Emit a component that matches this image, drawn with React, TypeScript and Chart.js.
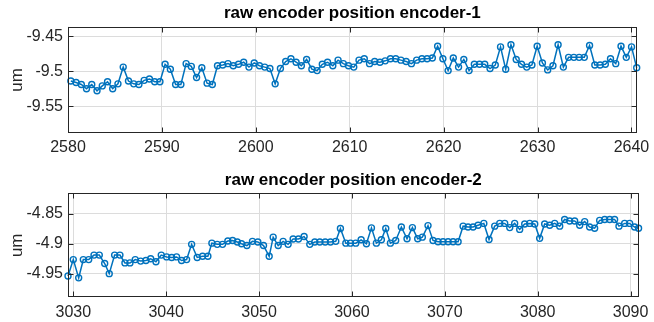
import React, { useEffect, useRef } from 'react';
import { Chart, registerables } from 'chart.js';

Chart.register(...registerables);

// ---------- data: encoder-1 ----------
const topTitle = 'raw encoder position encoder-1';
const topTimes = [
  2580.30, 2580.86, 2581.42, 2581.97, 2582.53, 2583.09, 2583.65, 2584.21, 2584.76, 2585.32,
  2585.88, 2586.44, 2587.00, 2587.55, 2588.11, 2588.67, 2589.23, 2589.79, 2590.34, 2590.90,
  2591.46, 2592.02, 2592.58, 2593.13, 2593.69, 2594.25, 2594.81, 2595.37, 2595.92, 2596.48,
  2597.04, 2597.60, 2598.16, 2598.71, 2599.27, 2599.83, 2600.39, 2600.95, 2601.50, 2602.06,
  2602.62, 2603.18, 2603.74, 2604.29, 2604.85, 2605.41, 2605.97, 2606.53, 2607.08, 2607.64,
  2608.20, 2608.76, 2609.32, 2609.87, 2610.43, 2610.99, 2611.55, 2612.11, 2612.66, 2613.22,
  2613.78, 2614.34, 2614.90, 2615.45, 2616.01, 2616.57, 2617.13, 2617.69, 2618.24, 2618.80,
  2619.36, 2619.92, 2620.48, 2621.03, 2621.59, 2622.15, 2622.71, 2623.27, 2623.82, 2624.38,
  2624.94, 2625.50, 2626.06, 2626.61, 2627.17, 2627.73, 2628.29, 2628.85, 2629.40, 2629.96,
  2630.52, 2631.08, 2631.64, 2632.19, 2632.75, 2633.31, 2633.87, 2634.43, 2634.98, 2635.54,
  2636.10, 2636.66, 2637.22, 2637.77, 2638.33, 2638.89, 2639.45, 2640.01, 2640.56,
];
const topPositions = [
  -9.514, -9.516, -9.519, -9.525, -9.519, -9.528, -9.521, -9.515, -9.525, -9.518,
  -9.494, -9.514, -9.518, -9.519, -9.513, -9.511, -9.515, -9.515, -9.490, -9.497,
  -9.519, -9.519, -9.489, -9.493, -9.509, -9.495, -9.517, -9.519, -9.492, -9.491,
  -9.489, -9.492, -9.490, -9.487, -9.494, -9.488, -9.492, -9.494, -9.496, -9.518,
  -9.496, -9.486, -9.482, -9.487, -9.492, -9.483, -9.497, -9.499, -9.490, -9.487,
  -9.492, -9.484, -9.489, -9.492, -9.494, -9.484, -9.482, -9.489, -9.486, -9.487,
  -9.485, -9.482, -9.482, -9.484, -9.486, -9.489, -9.484, -9.482, -9.482, -9.481,
  -9.464, -9.482, -9.499, -9.481, -9.494, -9.483, -9.499, -9.490, -9.490, -9.490,
  -9.496, -9.491, -9.465, -9.497, -9.462, -9.483, -9.490, -9.494, -9.491, -9.464,
  -9.488, -9.498, -9.492, -9.462, -9.494, -9.480, -9.480, -9.480, -9.480, -9.463,
  -9.491, -9.491, -9.490, -9.482, -9.489, -9.464, -9.480, -9.465, -9.495,
];
const topXRange = [2580, 2640.56];
const topYRange = [-9.589, -9.436];
const topXTicks = [2580, 2590, 2600, 2610, 2620, 2630, 2640];
const topYTicks = [-9.55, -9.5, -9.45];
const topYTickLabels = ['-9.55', '-9.5', '-9.45'];

// ---------- data: encoder-2 ----------
const bottomTitle = 'raw encoder position encoder-2';
const bottomTimes = [
  3029.43, 3030.00, 3030.58, 3031.08, 3031.66, 3032.23, 3032.80, 3033.38, 3033.87, 3034.45,
  3035.02, 3035.56, 3036.10, 3036.67, 3037.25, 3037.82, 3038.33, 3038.90, 3039.47, 3040.05,
  3040.59, 3041.12, 3041.66, 3042.20, 3042.74, 3043.34, 3043.92, 3044.49, 3044.92, 3045.50,
  3046.07, 3046.64, 3047.15, 3047.66, 3048.11, 3048.69, 3049.29, 3049.87, 3050.48, 3051.09,
  3051.52, 3052.06, 3052.59, 3053.13, 3053.67, 3054.24, 3054.85, 3055.46, 3056.00, 3056.54,
  3057.12, 3057.69, 3058.26, 3058.76, 3059.34, 3059.84, 3060.41, 3060.99, 3061.56, 3062.10,
  3062.63, 3063.17, 3063.64, 3064.14, 3064.71, 3065.32, 3065.93, 3066.51, 3067.08, 3067.58,
  3068.19, 3068.73, 3069.27, 3069.81, 3070.35, 3070.89, 3071.43, 3071.97, 3072.50, 3073.04,
  3073.58, 3074.20, 3074.76, 3075.37, 3075.91, 3076.45, 3076.99, 3077.52, 3078.06, 3078.60,
  3079.14, 3079.68, 3080.21, 3080.75, 3081.29, 3081.83, 3082.37, 3082.90, 3083.44, 3083.98,
  3084.52, 3085.06, 3085.59, 3086.13, 3086.67, 3087.21, 3087.75, 3088.28, 3088.75, 3089.36,
  3089.90, 3090.43, 3090.86,
];
const bottomPositions = [
  -4.954, -4.9265, -4.957, -4.9265, -4.9265, -4.919, -4.919, -4.933, -4.950, -4.919,
  -4.919, -4.932, -4.932, -4.9265, -4.929, -4.928, -4.925, -4.930, -4.919, -4.922,
  -4.923, -4.922, -4.928, -4.9265, -4.901, -4.923, -4.921, -4.921, -4.899, -4.901,
  -4.901, -4.8955, -4.8945, -4.897, -4.900, -4.903, -4.896, -4.897, -4.903, -4.921,
  -4.889, -4.903, -4.896, -4.901, -4.892, -4.892, -4.888, -4.901, -4.897, -4.897,
  -4.897, -4.897, -4.896, -4.8746, -4.899, -4.899, -4.899, -4.8934, -4.900, -4.8735,
  -4.899, -4.8934, -4.8746, -4.899, -4.8945, -4.872, -4.8917, -4.873, -4.8917, -4.889,
  -4.8697, -4.8945, -4.8967, -4.8967, -4.8967, -4.8967, -4.8967, -4.8706, -4.872, -4.872,
  -4.869, -4.866, -4.893, -4.8706, -4.866, -4.866, -4.873, -4.866, -4.876, -4.867,
  -4.866, -4.867, -4.891, -4.867, -4.869, -4.866, -4.8706, -4.8594, -4.862, -4.862,
  -4.869, -4.863, -4.872, -4.874, -4.861, -4.8594, -4.8594, -4.8594, -4.8706, -4.866,
  -4.866, -4.872, -4.874,
];
const bottomXRange = [3029.43, 3090.86];
const bottomYRange = [-4.9895, -4.8157];
const bottomXTicks = [3030, 3040, 3050, 3060, 3070, 3080, 3090];
const bottomYTicks = [-4.95, -4.9, -4.85];
const bottomYTickLabels = ['-4.95', '-4.9', '-4.85'];

const yLabel = 'um';

// ---------- styling ----------
const BLUE = '#0072BD';
const AXIS = '#262626';
const GRID = '#dcdcdc';
const FONT = "'Liberation Sans', Arial, Helvetica, sans-serif";

const boxPlugin = {
  id: 'matlabBox',
  afterDatasetsDraw(chart: any) {
    const { ctx, chartArea: a, scales } = chart;
    const l = Math.round(a.left) + 0.5;
    const r = Math.round(a.right) - 0.5;
    const t = Math.round(a.top) + 0.5;
    const b = Math.round(a.bottom) - 0.5;
    const tk = 5;
    ctx.save();
    ctx.strokeStyle = AXIS;
    ctx.lineWidth = 1;
    ctx.strokeRect(l, t, r - l, b - t);
    ctx.beginPath();
    scales.x.ticks.forEach((tick: any) => {
      const px = Math.round(scales.x.getPixelForValue(tick.value)) + 0.5;
      ctx.moveTo(px, b);
      ctx.lineTo(px, b - tk);
      ctx.moveTo(px, t);
      ctx.lineTo(px, t + tk);
    });
    scales.y.ticks.forEach((tick: any) => {
      const py = Math.round(scales.y.getPixelForValue(tick.value)) + 0.5;
      ctx.moveTo(l, py);
      ctx.lineTo(l + tk, py);
      ctx.moveTo(r, py);
      ctx.lineTo(r - tk, py);
    });
    ctx.stroke();
    ctx.restore();
  },
};

interface PanelSpec {
  title: string;
  times: number[];
  values: number[];
  xRange: number[];
  yRange: number[];
  xTicks: number[];
  yTicks: number[];
  yTickLabels: string[];
  titlePad: { top: number; bottom: number };
  xAxisHeight: number;
  xTickPad: number;
}

function makeConfig(p: PanelSpec): any {
  return {
    type: 'line',
    data: {
      datasets: [
        {
          data: p.times.map((t, i) => ({ x: t, y: p.values[i] })),
          borderColor: BLUE,
          borderWidth: 1.5,
          pointRadius: 3,
          pointBorderWidth: 1.4,
          pointBorderColor: BLUE,
          pointBackgroundColor: 'rgba(0,0,0,0)',
          tension: 0,
          clip: false,
        },
      ],
    },
    options: {
      animation: false,
      responsive: false,
      events: [],
      layout: { padding: { left: 0, right: 15, top: 0, bottom: 0 } },
      plugins: {
        legend: { display: false },
        tooltip: { enabled: false },
        title: {
          display: true,
          text: p.title,
          fullSize: false,
          color: '#000000',
          font: { family: FONT, size: 17, weight: 'bold' },
          padding: p.titlePad,
        },
      },
      scales: {
        x: {
          type: 'linear',
          min: p.xRange[0],
          max: p.xRange[1],
          afterBuildTicks: (s: any) => {
            s.ticks = p.xTicks.map((v) => ({ value: v }));
          },
          afterFit: (s: any) => {
            s.height = p.xAxisHeight;
          },
          ticks: {
            autoSkip: false,
            maxRotation: 0,
            padding: p.xTickPad,
            color: AXIS,
            font: { family: FONT, size: 16 },
            callback: (v: number) => String(v),
          },
          grid: { color: GRID, drawTicks: false, lineWidth: 1 },
          border: { display: false },
        },
        y: {
          type: 'linear',
          min: p.yRange[0],
          max: p.yRange[1],
          afterBuildTicks: (s: any) => {
            s.ticks = p.yTicks.map((v) => ({ value: v }));
          },
          afterFit: (s: any) => {
            s.width = 68;
          },
          ticks: {
            padding: 5,
            color: AXIS,
            font: { family: FONT, size: 16 },
            callback: (v: number) => {
              const i = p.yTicks.indexOf(v);
              return i >= 0 ? p.yTickLabels[i] : '';
            },
          },
          grid: { color: GRID, drawTicks: false, lineWidth: 1 },
          border: { display: false },
          title: {
            display: true,
            text: yLabel,
            color: AXIS,
            font: { family: FONT, size: 17 },
            padding: { top: 7, bottom: 0 },
          },
        },
      },
    },
    plugins: [boxPlugin],
  };
}

const panels: PanelSpec[] = [
  {
    title: topTitle,
    times: topTimes,
    values: topPositions,
    xRange: topXRange,
    yRange: topYRange,
    xTicks: topXTicks,
    yTicks: topYTicks,
    yTickLabels: topYTickLabels,
    titlePad: { top: 3.3, bottom: 3 },
    xAxisHeight: 27.7,
    xTickPad: 4.6,
  },
  {
    title: bottomTitle,
    times: bottomTimes,
    values: bottomPositions,
    xRange: bottomXRange,
    yRange: bottomYRange,
    xTicks: bottomXTicks,
    yTicks: bottomYTicks,
    yTickLabels: bottomYTickLabels,
    titlePad: { top: 8.8, bottom: 3.1 },
    xAxisHeight: 24.7,
    xTickPad: 5.4,
  },
];

function Panel({ spec }: { spec: PanelSpec }) {
  const ref = useRef<HTMLCanvasElement | null>(null);
  useEffect(() => {
    if (!ref.current) return;
    const chart = new Chart(ref.current, makeConfig(spec));
    return () => chart.destroy();
  }, [spec]);
  return (
    <canvas
      ref={ref}
      width={654}
      height={161}
      style={{ display: 'block', width: 654, height: 161 }}
    />
  );
}

export default function App() {
  return (
    <div
      style={{
        position: 'absolute',
        left: 0,
        top: 0,
        width: 654,
        height: 322,
        background: '#ffffff',
      }}
    >
      {panels.map((p, i) => (
        <Panel key={i} spec={p} />
      ))}
    </div>
  );
}
